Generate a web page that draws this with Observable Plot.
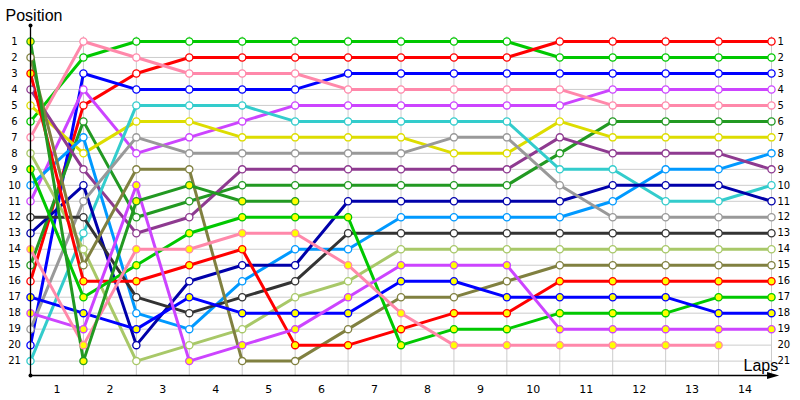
<!DOCTYPE html>
<html><head><meta charset="utf-8">
<script src="https://cdn.jsdelivr.net/npm/d3@7"></script>
<script src="https://cdn.jsdelivr.net/npm/@observablehq/plot@0.6"></script>
<style>
html,body{margin:0;padding:0;background:#fff;}
#chart{width:800px;height:400px;overflow:hidden;}
</style></head><body><div id="chart"></div>
<script>
// Lap columns (0 = starting grid) and tick labels
const laps = [0,1,2,3,4,5,6,7,8,9,10,11,12,13,14];
const lapLabels = [1,2,3,4,5,6,7,8,9,10,11,12,13,14];
const positionTicks = [1,2,3,4,5,6,7,8,9,10,11,12,13,14,15,16,17,18,19,20,21];

// Drivers (one series each)
const drivers = ["Green A","Red A","Blue A","Violet A","Pink A","DarkGreen A","Yellow","LightBlue","Purple","Cyan","DarkBlue","Gray","DarkGray","LightOlive","Olive","Red B","Green B","Blue B","Violet B","Pink B","DarkGreen B"];
const colors = ["#00c800","#ff0000","#0000ff","#cc44ff","#ff88aa","#229922","#dddd00","#0099ff","#8e3a90","#33cccc","#0000aa","#999999","#333333","#a8c868","#808040","#ff0000","#00c800","#0000ff","#cc44ff","#ff88aa","#229922"];
const fills = ["white","white","white","white","white","white","white","white","white","white","white","white","white","white","white","#ffff00","#ffff00","#ffff00","#ffff00","#ffff00","#ffff00"];

// Position of each driver at the end of each lap (index = lap, null = out)
const positions = [
  [6,2,1,1,1,1,1,1,1,1,2,2,2,2,2],
  [16,5,3,2,2,2,2,2,2,2,1,1,1,1,1],
  [20,3,4,4,4,4,3,3,3,3,3,3,3,3,3],
  [11,4,8,7,6,5,5,5,5,5,5,4,4,4,4],
  [7,1,2,3,3,3,4,4,4,4,4,5,5,5,5],
  [15,6,12,11,10,10,10,10,10,10,8,6,6,6,6],
  [5,8,6,6,7,7,7,7,8,8,6,7,7,7,7],
  [10,7,18,19,16,14,14,12,12,12,12,11,9,9,8],
  [4,9,13,12,9,9,9,9,9,9,7,8,8,8,9],
  [21,13,5,5,5,6,6,6,6,6,9,9,11,11,10],
  [13,10,20,16,15,15,11,11,11,11,11,10,10,10,11],
  [19,11,7,8,8,8,8,8,7,7,10,12,12,12,12],
  [12,12,17,18,17,16,13,13,13,13,13,13,13,13,13],
  [8,14,21,20,19,17,16,14,14,14,14,14,14,14,14],
  [2,15,9,9,21,21,19,17,17,16,15,15,15,15,15],
  [3,16,16,15,14,20,20,19,18,18,16,16,16,16,16],
  [9,17,15,13,12,12,12,20,19,19,18,18,18,17,17],
  [17,18,19,17,18,18,18,16,16,17,17,17,17,18,18],
  [18,19,10,21,20,19,17,15,15,15,19,19,19,19,19],
  [14,20,14,14,13,13,15,18,20,20,20,20,20,20,null],
  [1,21,11,10,11,11,null,null,null,null,null,null,null,null,null]
];

const rows = [];
positions.forEach((ps, d) => ps.forEach((p, i) => {
  if (p != null) rows.push({driver: drivers[d], lap: laps[i], pos: p, color: colors[d], fill: fills[d]});
}));

const yBottom = 21.9;
const arrowHead = {draw(ctx) { ctx.moveTo(6, 0); ctx.lineTo(-6, -3.5); ctx.lineTo(-6, 3.5); ctx.closePath(); }};
const tickFont = "DejaVu Sans, Verdana, sans-serif";
const titleFont = "Liberation Sans, Arial, sans-serif";

const chart = Plot.plot({
  width: 800, height: 400,
  marginLeft: 30, marginRight: 29, marginTop: 25, marginBottom: 25,
  x: {domain: [0, 14], axis: null},
  y: {domain: [0, yBottom], reverse: true, axis: null},
  color: {type: "identity"},
  style: {background: "white", overflow: "visible"},
  marks: [
    Plot.ruleY(positionTicks, {stroke: "#cccccc", strokeWidth: 1}),
    Plot.ruleX(lapLabels, {y1: 0.7, y2: yBottom, stroke: "#cccccc", strokeWidth: 1}),
    Plot.line(rows, {x: "lap", y: "pos", z: "driver", stroke: "color", strokeWidth: 3, strokeLinejoin: "round"}),
    Plot.dot(rows, {x: "lap", y: "pos", r: 3.6, stroke: "color", fill: "fill", strokeWidth: 1.3}),
    // axes
    Plot.ruleX([0], {y1: 0, y2: yBottom, stroke: "black", strokeWidth: 1.3}),
    Plot.ruleY([yBottom], {x1: 0, x2: 14.03, stroke: "black", strokeWidth: 1.3}),
    Plot.dot([0], {x: 0, y: 0, r: 2, fill: "black"}),
    Plot.dot([0], {x: 0, y: yBottom, r: 2, fill: "black"}),
    Plot.dot([0], {x: 14.03, y: yBottom, symbol: arrowHead, fill: "black", stroke: "none"}),
    // tick labels
    Plot.text(positionTicks, {x: 0, y: d => d, text: d => String(d), dx: -16, textAnchor: "middle", fontSize: 10, fontFamily: tickFont, fill: "black"}),
    Plot.text(positionTicks, {x: 14, y: d => d, text: d => String(d), dx: 6, textAnchor: "start", fontSize: 10, fontFamily: tickFont, fill: "black"}),
    Plot.text(lapLabels, {x: d => d - 0.5, y: yBottom, text: d => String(d), dy: 14, fontSize: 11, fontFamily: tickFont, fill: "black"}),
    Plot.text(["Position"], {frameAnchor: "top-left", text: d => d, dx: -25, dy: -5, textAnchor: "start", lineAnchor: "bottom", fontSize: 16, fontFamily: titleFont, fill: "black"}),
    Plot.text(["Laps"], {frameAnchor: "bottom-right", text: d => d, dx: -28, dy: -5, textAnchor: "start", lineAnchor: "bottom", fontSize: 16, fontFamily: titleFont, fill: "black"})
  ]
});
document.getElementById("chart").appendChild(chart);
</script>
</body></html>
